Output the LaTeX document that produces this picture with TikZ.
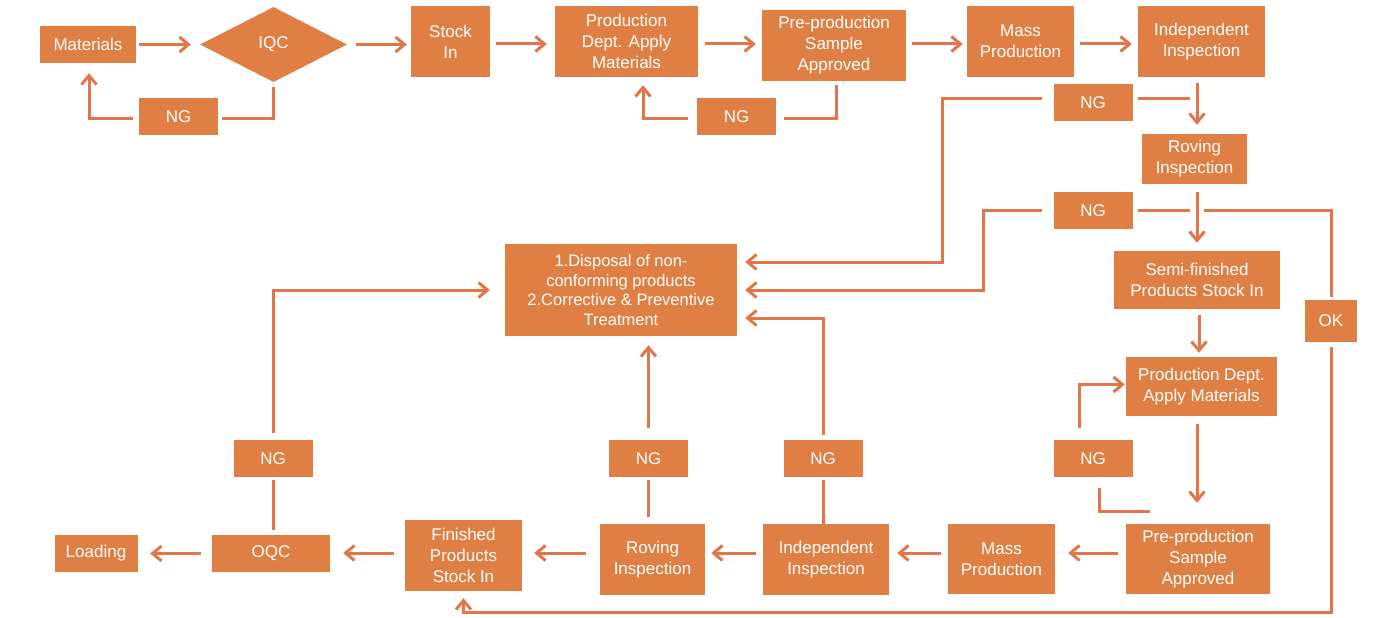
\documentclass[tikz,border=0pt]{standalone}
\usepackage{fontspec}
\setmainfont{Liberation Sans}
\usetikzlibrary{arrows.meta,shapes.geometric,calc}
\definecolor{boxc}{RGB}{224,127,68}
\definecolor{linec}{RGB}{226,118,75}
\begin{document}
\begin{tikzpicture}[x=1pt,y=-1pt,
  bx/.style={fill=boxc,text=white,inner sep=0pt,align=center,font=\fontsize{17}{21}\selectfont},
  ngbox/.style={bx,minimum width=79pt,minimum height=37pt},
  ln/.style={draw=linec,line width=3pt},
  ar/.style={ln,-{Straight Barb[length=9pt,width=15pt]}}]
\fill[white] (0,0) rectangle (1400,618);
\useasboundingbox (0,0) rectangle (1400,618);

% top row
\node[bx,minimum width=96pt,minimum height=37pt] (mat) at (88,44.5) {Materials};
\node[bx,diamond,minimum width=147pt,minimum height=75pt] (iqc) at (273.5,44.5) {IQC};
\node[bx,minimum width=79pt,minimum height=71pt] (stk) at (450.5,41.5) {Stock\\In};
\node[bx,minimum width=143pt,minimum height=71pt] (prod1) at (626.5,41.5) {Production\\Dept. Apply\\Materials};
\node[bx,minimum width=144pt,minimum height=71pt] (pre1) at (834,45.5) {Pre-production\\Sample\\Approved};
\node[bx,minimum width=107pt,minimum height=71pt] (mass1) at (1020.5,41.5) {Mass\\Production};
\node[bx,minimum width=127pt,minimum height=71pt] (ind1) at (1201.5,41.5) {Independent\\Inspection};
\node[ngbox] (ng1) at (178.5,116.5) {NG};
\node[ngbox] (ng2) at (736.5,116.5) {NG};
\node[ngbox] (ng3) at (1093,102.5) {NG};
% right column
\node[bx,minimum width=105pt,minimum height=50pt] (rov1) at (1194.5,159) {Roving\\Inspection};
\node[ngbox] (ng4) at (1093,210.5) {NG};
\node[bx,minimum width=166pt,minimum height=58pt] (semi) at (1197,280) {Semi-finished\\Products Stock In};
\node[bx,minimum width=52pt,minimum height=42pt] (ok) at (1331,321) {OK};
\node[bx,minimum width=151pt,minimum height=59pt] (prod2) at (1201.5,386.5) {Production Dept.\\Apply Materials};
\node[ngbox] (ng5) at (1093,458.5) {NG};
% bottom row
\node[bx,minimum width=144pt,minimum height=70pt] (pre2) at (1198,559) {Pre-production\\Sample\\Approved};
\node[bx,minimum width=107pt,minimum height=70pt] (mass2) at (1001.5,559) {Mass\\Production};
\node[bx,minimum width=126pt,minimum height=71pt] (ind2) at (826,559.5) {Independent\\Inspection};
\node[bx,minimum width=105pt,minimum height=71pt] (rov2) at (652.5,559.5) {Roving\\Inspection};
\node[bx,minimum width=117pt,minimum height=71pt] (fin) at (463.5,555.5) {Finished\\Products\\Stock In};
\node[bx,minimum width=118pt,minimum height=37pt] (oqc) at (271,553.5) {OQC};
\node[bx,minimum width=83pt,minimum height=37pt] (load) at (96,553.5) {Loading};
\node[ngbox] (ng6) at (273,458.5) {NG};
\node[ngbox] (ng7) at (648.5,458.5) {NG};
\node[ngbox] (ng8) at (823,458.5) {NG};
% disposal
\node[bx,minimum width=232pt,minimum height=92pt,font=\fontsize{16.5}{19.7}\selectfont] (disp) at (621,290) {1.Disposal of non-\\conforming products\\2.Corrective \& Preventive\\Treatment};

% top row arrows
\draw[ar,shorten <=3pt,shorten >=9pt] (mat.east) -- (iqc.west);
\draw[ar,shorten <=9pt,shorten >=4pt] (iqc.east) -- (iqc.east -| stk.west);
\coordinate (t1) at ($(stk.east)+(0,2.5)$);
\draw[ar,shorten <=6pt,shorten >=8pt] (t1) -- (t1 -| prod1.west);
\coordinate (t2) at ($(prod1.east)+(0,2.5)$);
\draw[ar,shorten <=7pt,shorten >=6pt] (t2) -- (t2 -| pre1.west);
\coordinate (t3) at ($(pre1.east)+(0,-1.5)$);
\draw[ar,shorten <=6pt,shorten >=4pt] (t3) -- (t3 -| mass1.west);
\coordinate (t4) at ($(mass1.east)+(0,2.5)$);
\draw[ar,shorten <=6pt,shorten >=6pt] (t4) -- (t4 -| ind1.west);

% top NG loops
\draw[ln,shorten <=5pt,shorten >=4pt] (iqc.south) |- ($(ng1.east)+(0,1.5)$);
\draw[ar,shorten <=6pt,shorten >=10pt] ($(ng1.west)+(0,1.5)$) -| ($(mat.south)+(1,0)$);
\draw[ln,shorten <=4pt,shorten >=8pt] ($(pre1.south)+(2,0)$) |- ($(ng2.east)+(0,1.5)$);
\draw[ar,shorten <=9pt,shorten >=8pt] ($(ng2.west)+(0,1.5)$) -| ($(prod1.south)+(16.5,0)$);

% NG3
\coordinate (a1) at ($(ind1.south)+(-4.5,0)$);
\draw[ar,shorten <=6pt,shorten >=9pt] (a1) -- (a1 |- rov1.north);
\coordinate (n3e) at ($(ng3.east)+(0,-4)$);
\coordinate (n3w) at ($(ng3.west)+(0,-4)$);
\draw[ln,shorten <=5pt,shorten >=7pt] (n3e) -- (n3e -| a1);
\draw[ar,shorten <=11pt,shorten >=8pt] (n3w) -- ++(-111,0) |- ($(disp.east)+(0,-28)$);

% NG4
\coordinate (a2) at ($(rov1.south)+(2.5,0)$);
\draw[ar,shorten <=8pt,shorten >=8pt] (a2) -- (a2 |- semi.north);
\coordinate (j4) at (ng4.east -| a2);
\draw[ln,shorten <=5pt,shorten >=7pt] (ng4.east) -- (j4);
\draw[ln,shorten <=7pt,shorten >=3pt] (j4) -| (ok.north);
\draw[ar,shorten <=11pt,shorten >=8pt] (ng4.west) -- ++(-70,0) |- (disp.east);
\draw[ar,shorten <=5pt,shorten >=7pt] (ok.south) -- ++(0,270) -| (fin.south);

% right column
\coordinate (a3) at ($(semi.south)+(2,0)$);
\draw[ar,shorten <=6pt,shorten >=4pt] (a3) -- (a3 |- prod2.north);
\coordinate (a4) at ($(prod2.south)+(-4.5,0)$);
\draw[ar,shorten <=8pt,shorten >=21pt] (a4) -- (a4 |- pre2.north);
\coordinate (a5) at ($(ng5.north)+(-14,0)$);
\draw[ar,shorten <=12pt,shorten >=1pt] (a5) |- ($(prod2.west)+(0,-2)$);
\coordinate (n5end) at ($(pre2.north)+(-48,-12)$);
\coordinate (a6) at ($(ng5.south)+(6,0)$);
\draw[ln,shorten <=11pt] (a6) |- (n5end);

% bottom row arrows
\coordinate (b1) at ($(pre2.west)+(0,-6)$);
\draw[ar,shorten <=8pt,shorten >=13pt] (b1) -- (b1 -| mass2.east);
\coordinate (b2) at ($(mass2.west)+(0,-6)$);
\draw[ar,shorten <=7pt,shorten >=8pt] (b2) -- (b2 -| ind2.east);
\coordinate (b3) at ($(ind2.west)+(0,-6.5)$);
\draw[ar,shorten <=7pt,shorten >=6pt] (b3) -- (b3 -| rov2.east);
\coordinate (b4) at ($(rov2.west)+(0,-6.5)$);
\draw[ar,shorten <=14pt,shorten >=12pt] (b4) -- (b4 -| fin.east);
\coordinate (b5) at ($(fin.west)+(0,-2.5)$);
\draw[ar,shorten <=11pt,shorten >=13pt] (b5) -- (b5 -| oqc.east);
\draw[ar,shorten <=11pt,shorten >=12.5pt] (oqc.west) -- (load.east);

% bottom NG connections
\draw[ln,shorten <=5pt,shorten >=3pt] (oqc.north -| ng6.south) -- (ng6.south);
\draw[ar,shorten <=7pt,shorten >=15pt] (ng6.north) |- (disp.west);
\draw[ln,shorten <=7pt,shorten >=3pt] (rov2.north -| ng7.south) -- (ng7.south);
\draw[ar,shorten <=12pt,shorten >=9pt] (ng7.north) -- (ng7.north |- disp.south);
\draw[ln,shorten >=3pt] (ind2.north -| ng8.south) -- (ng8.south);
\draw[ar,shorten <=5pt,shorten >=8pt] (ng8.north) |- ($(disp.east)+(0,28)$);
\end{tikzpicture}
\end{document}
